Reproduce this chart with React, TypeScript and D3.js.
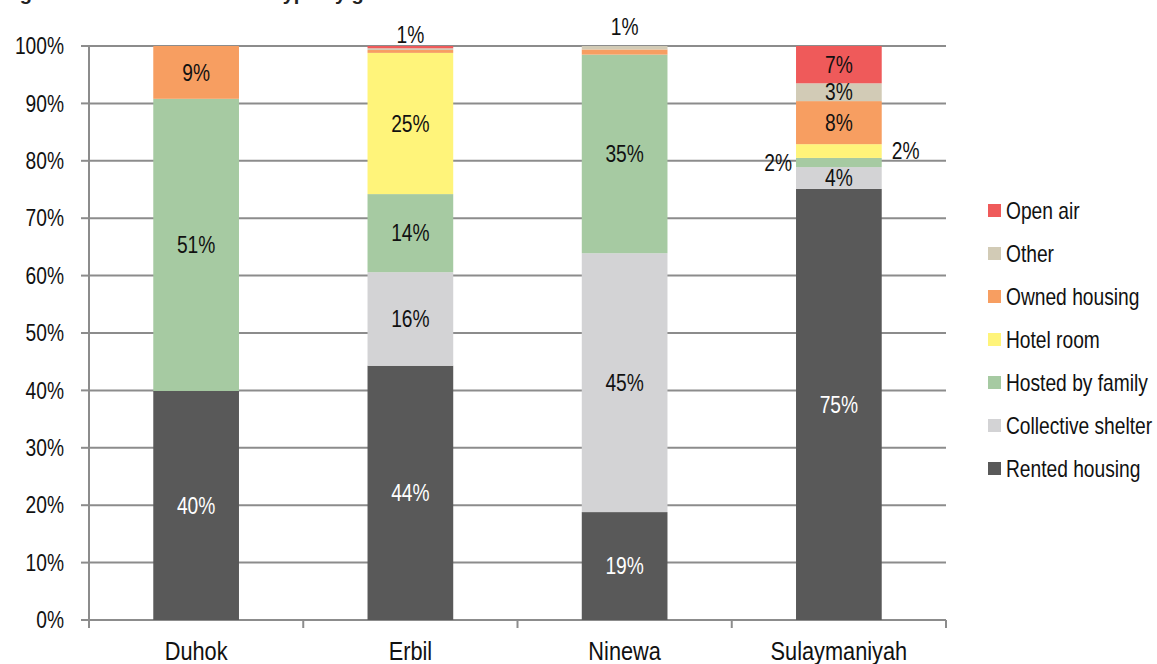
import React from "react";
import * as d3 from "d3";

const categories = ["Duhok", "Erbil", "Ninewa", "Sulaymaniyah"];
const seriesNames = ["Rented housing", "Collective shelter", "Hosted by family", "Hotel room", "Owned housing", "Other", "Open air"];
const rented = [39.9, 44.3, 18.8, 75.1];
const collective = [0, 16.3, 45.1, 3.8];
const hosted = [50.9, 13.6, 34.6, 1.6];
const hotel = [0, 24.6, 0, 2.4];
const owned = [9.2, 0.5, 0.9, 7.5];
const other = [0, 0.3, 0.6, 3.1];
const openAir = [0, 0.4, 0, 6.5];
const yTicks = [0, 10, 20, 30, 40, 50, 60, 70, 80, 90, 100];

const colors = ["#595959", "#d3d3d5", "#a6caa2", "#fff47a", "#f79e61", "#d2cbb6", "#ef5a5a"];
const labelColors = ["#ffffff", "#111", "#111", "#111", "#111", "#111", "#111"];

// placement for small segments' labels: [category index, series index, mode, dx, dy]
const smallLabels: [number, number, string, number, number][] = [
  [1, 6, "above", 0, -11],
  [2, 4, "above", 0, -19],
  [3, 2, "left", -4, 0],
  [3, 3, "right", 10, 0],
];

const FONT = "'Liberation Sans', Arial, sans-serif";

function T(props: { x: number; y: number; size?: number; sx?: number; anchor?: string; fill?: string; baseline?: string; children: any }) {
  const { x, y, size = 24, sx = 0.8, anchor = "start", fill = "#111", baseline = "central", children } = props;
  return (
    <text transform={`translate(${x},${y}) scale(${sx},1)`} textAnchor={anchor} dominantBaseline={baseline} fontSize={size} fill={fill}>
      {children}
    </text>
  );
}

export default function App() {
  const W = 1157, H = 664;
  const left = 89, right = 946, top = 46, bottom = 620;
  const seriesVals = [rented, collective, hosted, hotel, owned, other, openAir];
  const rows = categories.map((c, i) => {
    const o: any = { cat: c };
    seriesNames.forEach((s, j) => (o[s] = seriesVals[j][i]));
    return o;
  });
  const stack = d3.stack<any>().keys(seriesNames)(rows);
  const x = d3.scaleBand().domain(categories).range([left, right]).paddingInner(0.6).paddingOuter(0.3);
  const xb = d3.scaleBand().domain(categories).range([left, right]);
  const y = d3.scaleLinear().domain([0, 100]).range([bottom, top]);

  return (
    <svg width={W} height={H} style={{ position: "absolute", left: 0, top: 0, background: "#fff" }} fontFamily={FONT}>
      <text y={0} fontWeight="bold" fontSize={20} fill="#222">
        <tspan x={2}>Figure 3: IDP shelter</tspan>
        <tspan x={276}>type by governorate</tspan>
      </text>
      {yTicks.map((t) => (
        <g key={t}>
          {t > 0 && <line x1={left} x2={right} y1={y(t)} y2={y(t)} stroke="#8c8c8c" strokeWidth={2} />}
          <line x1={left - 8} x2={left} y1={y(t)} y2={y(t)} stroke="#8c8c8c" strokeWidth={2} />
          <T x={left - 25} y={y(t)} anchor="end">{t}%</T>
        </g>
      ))}
      <line x1={left} x2={left} y1={top} y2={bottom} stroke="#8c8c8c" strokeWidth={2} />
      <line x1={left} x2={right} y1={bottom} y2={bottom} stroke="#8c8c8c" strokeWidth={2} />
      {[...categories.map((c) => xb(c)!), right].map((v, i) => (
        <line key={i} x1={v} x2={v} y1={bottom} y2={bottom + 8} stroke="#8c8c8c" strokeWidth={2} />
      ))}
      {categories.map((c) => (
        <T key={c} x={xb(c)! + xb.bandwidth() / 2} y={660} size={25} sx={0.87} anchor="middle" baseline="auto">
          {c}
        </T>
      ))}
      {stack.map((s, j) => (
        <g key={s.key}>
          {s.map((d, i) =>
            d[1] - d[0] > 0 ? (
              <rect key={i} x={x(categories[i])} width={x.bandwidth()} y={y(d[1])} height={y(d[0]) - y(d[1])} fill={colors[j]} />
            ) : null
          )}
        </g>
      ))}
      {stack.map((s, j) =>
        s.map((d, i) => {
          const v = d[1] - d[0];
          if (v < 3) return null;
          return (
            <T key={`${j}-${i}`} x={x(categories[i])! + x.bandwidth() / 2} y={(y(d[0]) + y(d[1])) / 2} anchor="middle" fill={labelColors[j]}>
              {Math.round(v)}%
            </T>
          );
        })
      )}
      {smallLabels.map(([ci, si, mode, dx, dy], k) => {
        const d = stack[si][ci];
        const v = d[1] - d[0];
        const cx = x(categories[ci])! + x.bandwidth() / 2;
        let tx = cx, ty = (y(d[0]) + y(d[1])) / 2, anchor = "middle";
        if (mode === "above") ty = y(100);
        if (mode === "left") { tx = x(categories[ci])!; anchor = "end"; }
        if (mode === "right") { tx = x(categories[ci])! + x.bandwidth(); anchor = "start"; }
        return (
          <T key={k} x={tx + dx} y={ty + dy} anchor={anchor}>
            {Math.max(1, Math.round(v))}%
          </T>
        );
      })}
      {seriesNames.slice().reverse().map((s, k) => {
        const j = seriesNames.length - 1 - k;
        const cy = 211 + k * 43;
        return (
          <g key={s}>
            <rect x={988} y={cy - 7} width={13} height={13} fill={colors[j]} />
            <T x={1006} y={cy}>{s}</T>
          </g>
        );
      })}
    </svg>
  );
}
